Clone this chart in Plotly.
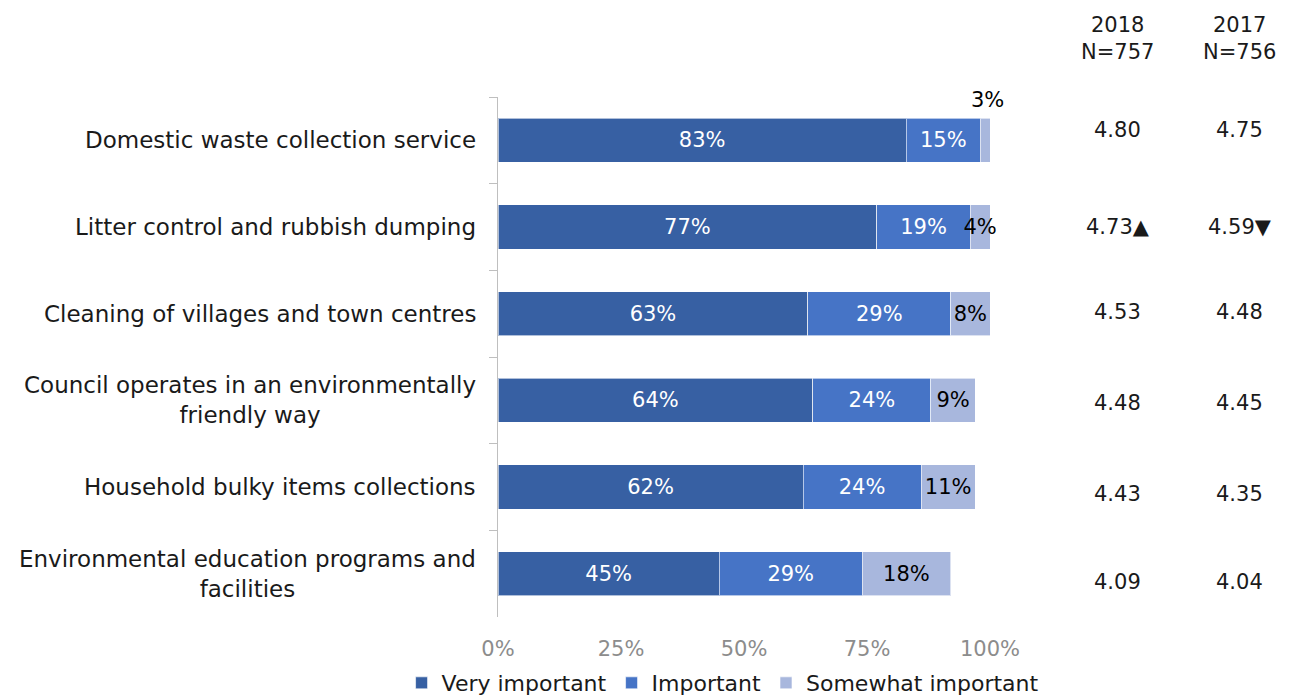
import plotly.graph_objects as go

# Survey items, top to bottom
categories = [
    "Domestic waste collection service",
    "Litter control and rubbish dumping",
    "Cleaning of villages and town centres",
    "Council operates in an environmentally<br>friendly way",
    "Household bulky items collections",
    "Environmental education programs and<br>facilities",
]

very_important = [83, 77, 63, 64, 62, 45]
important = [15, 19, 29, 24, 24, 29]
somewhat_important = [3, 4, 8, 9, 11, 18]

series_names = ["Very important", "Important", "Somewhat important"]

# Mean scores by year
year_headers = ["2018<br>N=757", "2017<br>N=756"]
mean_2018 = ["4.80", "4.73▲", "4.53", "4.48", "4.43", "4.09"]
mean_2017 = ["4.75", "4.59▼", "4.48", "4.45", "4.35", "4.04"]

x_ticks = [0, 25, 50, 75, 100]
x_tick_text = ["0%", "25%", "50%", "75%", "100%"]

FONT = "DejaVu Sans"
colors = ["#3760A3", "#4674C6", "#A8B7DD"]
text_colors = ["white", "white", "black"]

fig = go.Figure()
all_series = [very_important, important, somewhat_important]
for i, (name, vals) in enumerate(zip(series_names, all_series)):
    labels = [f"{v}%" for v in vals]
    if i == 2:
        labels[0] = ""  # narrow segment labelled above the bar
    fig.add_trace(go.Bar(
        y=categories, x=vals, name=name, orientation="h",
        marker=dict(color=colors[i], line=dict(color="rgba(255,255,255,0.6)", width=1)),
        text=labels, textposition="inside", insidetextanchor="middle",
        textangle=0, constraintext="none",
        textfont=dict(family=FONT, size=21, color=text_colors[i]),
        cliponaxis=False, hoverinfo="skip",
    ))

annotations = []
# Category labels, centred multi-line
for c in categories:
    annotations.append(dict(
        x=0, xref="paper", y=c, yref="y", text=c, showarrow=False,
        xanchor="right", xshift=-20, align="center",
        font=dict(family=FONT, size=23, color="#1a1a1a"),
    ))

# Label for the small first-row segment, above its bar
seg_mid0 = very_important[0] + important[0] + somewhat_important[0] / 2
annotations.append(dict(
    x=seg_mid0, xref="x", y=categories[0], yref="y",
    text=f"{somewhat_important[0]}%", showarrow=False,
    xanchor="center", yshift=40,
    font=dict(family=FONT, size=21, color="black"),
))

# Year columns
col_x = [1.26, 1.508]
row_shift = [-10, 0, -2, 3, 7, 8]
for cx, head, vals in zip(col_x, year_headers, [mean_2018, mean_2017]):
    annotations.append(dict(
        x=cx, xref="paper", y=1.113, yref="paper", text=head,
        showarrow=False, xanchor="center", yanchor="middle",
        font=dict(family=FONT, size=21, color="#1a1a1a"),
    ))
    for c, v, s in zip(categories, vals, row_shift):
        annotations.append(dict(
            x=cx, xref="paper", y=c, yref="y", text=v, showarrow=False,
            xanchor="center", yshift=-s,
            font=dict(family=FONT, size=21, color="#1a1a1a"),
        ))

fig.update_layout(
    width=1290, height=695,
    margin=dict(l=498, r=300, t=97, b=78, autoexpand=False),
    paper_bgcolor="white", plot_bgcolor="white",
    barmode="stack", bargap=0.49,
    showlegend=True,
    legend=dict(
        orientation="h", x=-0.196, xanchor="left",
        y=-0.127, yanchor="middle",
        font=dict(family=FONT, size=22, color="#1a1a1a"),
        itemwidth=30, tracegroupgap=0, traceorder="normal",
    ),
    annotations=annotations,
    font=dict(family=FONT),
)
fig.update_xaxes(
    range=[0, 100], tickvals=x_ticks, ticktext=x_tick_text,
    showgrid=False, zeroline=False, showline=False,
    tickfont=dict(family=FONT, size=21, color="#8c8c8c"),
    ticklabelstandoff=17,
)
fig.update_yaxes(
    autorange="reversed", showticklabels=False, showgrid=False,
    showline=True, linecolor="#bfbfbf", linewidth=1,
    ticks="outside", tickson="boundaries", ticklen=8, tickcolor="#bfbfbf",
)

fig.write_html("out.html")
